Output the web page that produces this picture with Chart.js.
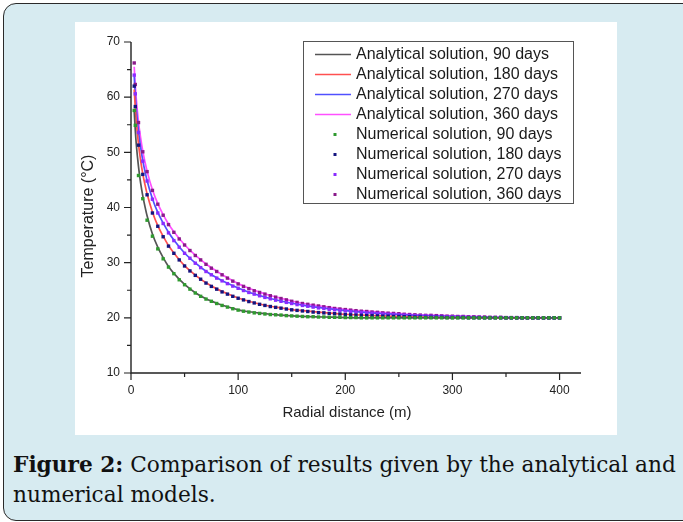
<!DOCTYPE html>
<html>
<head>
<meta charset="utf-8">
<script src="https://cdn.jsdelivr.net/npm/chart.js@4.4.1/dist/chart.umd.min.js"></script>
<style>
  html, body { margin: 0; padding: 0; background: #fff; }
  body { width: 683px; height: 522px; position: relative; overflow: hidden; }
  #frame { position: absolute; left: 3px; top: 3px; width: 720px; height: 518px; box-sizing: border-box;
           border: 1.5px solid #2a2a2a; border-radius: 13px; background: #d7ebf1; }
  #panel { position: absolute; left: 75px; top: 22px; width: 542px; height: 413px; background: #fff; }
  #caption { position: absolute; left: 13px; top: 450px; font-family: "DejaVu Serif", serif; color: #111;
             line-height: 30px; white-space: nowrap; font-size: 21px; }
</style>
</head>
<body>
<div id="frame"></div>
<div id="panel"><canvas id="chart"></canvas></div>
<div id="caption">
  <div><b>Figure 2:</b> Comparison of results given by the analytical and</div>
  <div>numerical models.</div>
</div>
<script>
// Radial distance (m) of the analytical curve nodes and of the numerical grid points.
const analyticalRadius = [3, 4, 5, 7, 9, 11, 13, 15, 20, 25, 30, 35, 40, 50, 60, 70, 80, 90, 100,
  110, 120, 130, 140, 150, 160, 180, 200, 220, 240, 260, 280, 300, 350, 400];
const numericalRadius = [3, 4, 7, 11, 15, 20,
  25, 30, 35, 40, 45, 50, 55, 60, 65, 70, 75, 80, 85, 90, 95, 100, 105, 110, 115, 120,
  125, 130, 135, 140, 145, 150, 155, 160, 165, 170, 175, 180, 185, 190, 195, 200, 205, 210,
  215, 220, 225, 230, 235, 240, 245, 250, 255, 260, 265, 270, 275, 280, 285, 290, 295, 300,
  305, 310, 315, 320, 325, 330, 335, 340, 345, 350, 355, 360, 365, 370, 375, 380, 385, 390, 395, 400];

// Temperature (°C), analytical solution
const analytical90 = [57.4, 54.0, 51.3, 47.4, 44.4, 42.1, 40.2, 38.5, 35.2, 32.8, 30.9, 29.3, 28.05,
  26.05, 24.55, 23.45, 22.65, 22.0, 21.45, 21.1, 20.85, 20.65, 20.5, 20.35, 20.25, 20.15, 20.05,
  20, 20, 20, 20, 20, 20, 20];
const analytical180 = [61.4, 58.1, 55.4, 51.5, 48.5, 46.1, 44.2, 42.5, 39.2, 36.7, 34.8, 33.1, 31.75,
  29.45, 27.75, 26.35, 25.25, 24.35, 23.6, 23.0, 22.5, 22.1, 21.8, 21.5, 21.3, 20.95, 20.65, 20.45,
  20.3, 20.2, 20.1, 20.05, 20, 20];
const analytical270 = [63.8, 60.4, 57.8, 53.8, 50.9, 48.5, 46.6, 44.9, 41.6, 39.1, 37.2, 35.5, 34.1,
  31.75, 29.95, 28.45, 27.25, 26.25, 25.4, 24.65, 24.05, 23.5, 23.05, 22.65, 22.3, 21.75, 21.3, 20.95,
  20.7, 20.5, 20.35, 20.25, 20.05, 20];
const analytical360 = [65.5, 62.1, 59.5, 55.5, 52.6, 50.2, 48.3, 46.6, 43.2, 40.7, 38.7, 37.0, 35.6,
  33.25, 31.35, 29.75, 28.45, 27.25, 26.2, 25.35, 24.65, 24.05, 23.55, 23.05, 22.65, 22.05, 21.55, 21.2,
  20.9, 20.65, 20.5, 20.35, 20.1, 20];

// Temperature (°C), numerical solution
const numerical90 = [57.6, 54.9, 45.8, 41.6, 37.7, 34.8,
  32.5, 30.7, 29.2, 28.0, 26.9, 26.0, 25.2, 24.5, 23.9, 23.4,
  23.0, 22.6, 22.25, 21.95, 21.65, 21.4, 21.2, 21.05, 20.9, 20.8,
  20.7, 20.6, 20.55, 20.5, 20.4, 20.35, 20.3, 20.25, 20.2, 20.2,
  20.15, 20.15, 20.1, 20.1, 20.1, 20.05, 20.05, 20.05,
  20, 20, 20, 20, 20, 20, 20, 20, 20, 20, 20, 20, 20, 20, 20, 20, 20, 20, 20,
  20, 20, 20, 20, 20, 20, 20, 20, 20, 20, 20, 20, 20, 20, 20, 20, 20, 20, 20];
const numerical180 = [62.0, 58.3, 51.3, 46.0, 42.3, 39.0,
  36.6, 34.7, 33.0, 31.7, 30.5, 29.4, 28.5, 27.7, 27.0, 26.3,
  25.7, 25.2, 24.7, 24.3, 23.9, 23.55, 23.25, 22.95, 22.7, 22.45,
  22.25, 22.05, 21.9, 21.75, 21.6, 21.45, 21.35, 21.25, 21.15, 21.05,
  20.95, 20.9, 20.8, 20.75, 20.7, 20.6, 20.55, 20.5, 20.45, 20.4,
  20.4, 20.35, 20.3, 20.3, 20.25, 20.25, 20.2, 20.2, 20.15, 20.15,
  20.1, 20.1, 20.1, 20.1, 20.05, 20.05, 20.05, 20.05,
  20, 20, 20, 20, 20, 20, 20, 20, 20, 20, 20, 20, 20, 20, 20, 20, 20, 20];
const numerical270 = [64.0, 60.6, 53.6, 48.4, 44.8, 41.5,
  39.0, 37.1, 35.4, 34.0, 32.8, 31.7, 30.8, 29.9, 29.1, 28.4,
  27.8, 27.2, 26.7, 26.2, 25.75, 25.35, 24.95, 24.6, 24.3, 24.0,
  23.7, 23.45, 23.2, 23.0, 22.8, 22.6, 22.4, 22.25, 22.1, 21.95,
  21.8, 21.7, 21.55, 21.45, 21.35, 21.25, 21.15, 21.05, 21.0, 20.9,
  20.85, 20.8, 20.7, 20.65, 20.6, 20.55, 20.5, 20.45, 20.4, 20.35,
  20.35, 20.3, 20.25, 20.25, 20.2, 20.2, 20.15, 20.15, 20.1, 20.1,
  20.1, 20.05, 20.05, 20.05, 20.05,
  20, 20, 20, 20, 20, 20, 20, 20, 20, 20, 20];
const numerical360 = [66.2, 62.3, 55.4, 50.1, 46.5, 43.1,
  40.6, 38.6, 36.9,
  35.5, 34.3, 33.2, 32.2, 31.3, 30.5, 29.7, 29.0, 28.4, 27.8,
  27.2, 26.65, 26.15, 25.7, 25.3, 24.9, 24.6, 24.3, 24.0, 23.75,
  23.5, 23.25, 23.0, 22.8, 22.6, 22.45, 22.3, 22.15, 22.0, 21.85,
  21.7, 21.6, 21.5, 21.4, 21.3, 21.2, 21.15, 21.05, 21.0, 20.9,
  20.85, 20.8, 20.75, 20.65, 20.6, 20.55, 20.5, 20.45, 20.45, 20.4,
  20.35, 20.3, 20.3, 20.25, 20.25, 20.2, 20.2, 20.15, 20.15, 20.1,
  20.1, 20.1, 20.05, 20.05, 20.05,
  20, 20, 20, 20, 20, 20, 20, 20];

const seriesLabels = ['90 days', '180 days', '270 days', '360 days'];
const xTickLabels = [0, 100, 200, 300, 400];
const yTickLabels = [10, 20, 30, 40, 50, 60, 70];
const xTitle = 'Radial distance (m)';
const yTitle = 'Temperature (°C)';

const lineColors = ['#555555', '#ff5050', '#5050ff', '#ff50ff'];
const pointColors = ['#2f9a2f', '#15157f', '#8a2cff', '#8a1a8a'];

const pairs = (xs, ys) => xs.map((x, i) => ({ x, y: ys[i] }));
const analytical = [analytical90, analytical180, analytical270, analytical360];
const numerical = [numerical90, numerical180, numerical270, numerical360];

const datasets = [
  ...analytical.map((vals, i) => ({
    label: `Analytical solution, ${seriesLabels[i]}`,
    data: pairs(analyticalRadius, vals),
    borderColor: lineColors[i],
    backgroundColor: lineColors[i],
    borderWidth: 1.7,
    pointRadius: 0,
    cubicInterpolationMode: 'monotone',
    fill: false,
    order: 1,
  })),
  ...numerical.map((vals, i) => ({
    label: `Numerical solution, ${seriesLabels[i]}`,
    data: pairs(numericalRadius, vals),
    showLine: false,
    pointStyle: 'rect',
    pointRadius: 2.4,
    pointBorderWidth: 0,
    pointBackgroundColor: pointColors[i],
    borderColor: pointColors[i],
    backgroundColor: pointColors[i],
    order: 0,
  })),
];

// Origin-style axes: L-shaped frame, outward major + minor ticks, axis titles, boxed legend.
const axesAndLegend = {
  id: 'axesAndLegend',
  afterDraw(chart) {
    const { ctx, chartArea: a, scales: { x, y } } = chart;
    ctx.save();
    ctx.strokeStyle = '#222';
    ctx.lineWidth = 1.4;
    ctx.beginPath();
    ctx.moveTo(a.left, a.top);
    ctx.lineTo(a.left, a.bottom);
    ctx.lineTo(a.right, a.bottom);
    ctx.stroke();

    ctx.lineWidth = 1.2;
    ctx.beginPath();
    xTickLabels.forEach((v, i) => {
      const px = x.getPixelForValue(v);
      ctx.moveTo(px, a.bottom); ctx.lineTo(px, a.bottom + 7);
      if (i < xTickLabels.length - 1) {
        const mx = x.getPixelForValue((v + xTickLabels[i + 1]) / 2);
        ctx.moveTo(mx, a.bottom); ctx.lineTo(mx, a.bottom + 4);
      }
    });
    yTickLabels.forEach((v, i) => {
      const py = y.getPixelForValue(v);
      ctx.moveTo(a.left, py); ctx.lineTo(a.left - 7, py);
      if (i < yTickLabels.length - 1) {
        const my = y.getPixelForValue((v + yTickLabels[i + 1]) / 2);
        ctx.moveTo(a.left, my); ctx.lineTo(a.left - 4, my);
      }
    });
    ctx.stroke();

    // axis titles
    ctx.fillStyle = '#222';
    ctx.textAlign = 'center';
    ctx.textBaseline = 'middle';
    ctx.font = '15px "Liberation Sans", Arial, sans-serif';
    ctx.fillText(xTitle, 272, 391);
    ctx.save();
    ctx.translate(14, 194);
    ctx.rotate(-Math.PI / 2);
    ctx.font = '16px "Liberation Sans", Arial, sans-serif';
    ctx.fillText(yTitle, 0, 0);
    ctx.restore();

    // legend
    const box = { left: 228, top: 19, width: 270, height: 162 };
    ctx.strokeStyle = '#555';
    ctx.lineWidth = 1;
    ctx.strokeRect(box.left + 0.5, box.top + 0.5, box.width, box.height);
    ctx.font = '16px "Liberation Sans", Arial, sans-serif';
    ctx.textAlign = 'left';
    chart.data.datasets.forEach((ds, i) => {
      const cy = box.top + 13.5 + i * 20;
      if (i < lineColors.length) {
        ctx.strokeStyle = lineColors[i];
        ctx.lineWidth = 1.7;
        ctx.beginPath();
        ctx.moveTo(240, cy);
        ctx.lineTo(276, cy);
        ctx.stroke();
      } else {
        ctx.fillStyle = pointColors[i - lineColors.length];
        ctx.fillRect(258.5, cy - 1.5, 3, 3);
      }
      ctx.fillStyle = '#1a1a1a';
      ctx.fillText(ds.label, 281, cy + 0.5);
    });
    ctx.restore();
  },
};

Chart.defaults.font.family = '"Liberation Sans", Arial, sans-serif';
Chart.defaults.color = '#222';

new Chart(document.getElementById('chart'), {
  type: 'line',
  data: { datasets },
  options: {
    responsive: true,
    maintainAspectRatio: false,
    animation: false,
    layout: { padding: { left: 0, top: 20, right: 36, bottom: 0 } },
    scales: {
      x: {
        type: 'linear',
        min: 0,
        max: 420,
        grid: { display: false, drawTicks: true, tickLength: 7 },
        border: { display: false },
        ticks: { stepSize: 100, includeBounds: false, padding: 3, font: { size: 12 }, color: '#222' },
        afterFit: (s) => { s.height = 62; },
      },
      y: {
        min: 10,
        max: 70,
        grid: { display: false, drawTicks: true, tickLength: 7 },
        border: { display: false },
        ticks: { stepSize: 10, padding: 4, font: { size: 12 }, color: '#222' },
        afterFit: (s) => { s.width = 56; },
      },
    },
    plugins: {
      legend: { display: false },
      tooltip: { enabled: false },
    },
  },
  plugins: [axesAndLegend],
});

// fit the caption's first line to the width it takes in the figure
(function fitCaption() {
  const m = document.createElement('canvas').getContext('2d');
  m.font = 'bold 100px "DejaVu Serif"';
  const wBold = m.measureText('Figure 2:').width;
  m.font = '100px "DejaVu Serif"';
  const wRest = m.measureText(' Comparison of results given by the analytical and').width;
  document.getElementById('caption').style.fontSize = (100 * 663 / (wBold + wRest)).toFixed(2) + 'px';
})();
</script>
</body>
</html>
